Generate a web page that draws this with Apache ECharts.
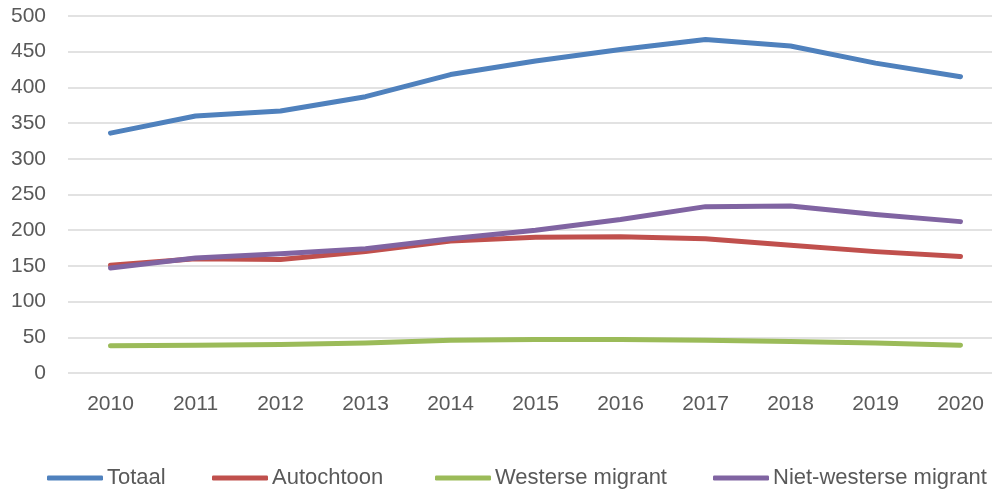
<!DOCTYPE html>
<html>
<head>
<meta charset="utf-8">
<script src="https://cdn.jsdelivr.net/npm/echarts@6/dist/echarts.min.js"></script>
<style>
  html, body { margin: 0; padding: 0; background: #fff; }
  #chart { width: 992px; height: 492px; }
</style>
</head>
<body>
<div id="chart"></div>
<script>
const years = ['2010', '2011', '2012', '2013', '2014', '2015', '2016', '2017', '2018', '2019', '2020']
const totaal = [336, 360, 367, 387, 418, 437, 453, 467, 458, 434, 415]
const autochtoon = [151, 160, 159, 170, 185, 190, 191, 188, 179, 170, 163]
const westers = [38, 39, 40, 42, 46, 47, 47, 46, 44, 42, 39]
const nietWesters = [147, 161, 167, 174, 188, 200, 215, 233, 234, 222, 212]

const seriesNames = ['Totaal', 'Autochtoon', 'Westerse migrant', 'Niet-westerse migrant']
const seriesColors = ['#4f81bd', '#c0504d', '#9bbb59', '#8064a2']
const legendLeft = [47, 212, 435, 713]

const font = 'Liberation Sans, Arial, sans-serif'
const chart = echarts.init(document.getElementById('chart'))

const seriesData = [totaal, autochtoon, westers, nietWesters]

chart.setOption({
  animation: false,
  // plot area runs a little past the right edge, like the original
  grid: { left: 68, width: 935, top: 16, bottom: 119, outerBoundsMode: 'none', containLabel: false },
  legend: seriesNames.map((name, i) => ({
    data: [name],
    left: legendLeft[i],
    top: 467,
    padding: 0,
    icon: 'roundRect',
    itemWidth: 56,
    itemHeight: 5,
    itemGap: 4,
    textStyle: { color: '#595959', fontSize: 22, fontFamily: font, padding: [0, 0, 0, -1] }
  })),
  xAxis: {
    type: 'category',
    data: years,
    boundaryGap: true,
    axisLine: { show: false },
    axisTick: { show: false },
    axisLabel: { color: '#595959', fontSize: 21, fontFamily: font, margin: 21 }
  },
  yAxis: {
    type: 'value',
    min: 0,
    max: 500,
    interval: 50,
    axisLine: { show: false },
    axisTick: { show: false },
    axisLabel: { color: '#595959', fontSize: 21, fontFamily: font, margin: 22 },
    splitLine: { lineStyle: { color: '#d9d9d9', width: 1.5 } }
  },
  series: seriesNames.map((name, i) => ({
    name: name,
    type: 'line',
    data: seriesData[i],
    symbol: 'none',
    color: seriesColors[i],
    lineStyle: { width: 5, cap: 'round', join: 'round' }
  }))
})
</script>
</body>
</html>
